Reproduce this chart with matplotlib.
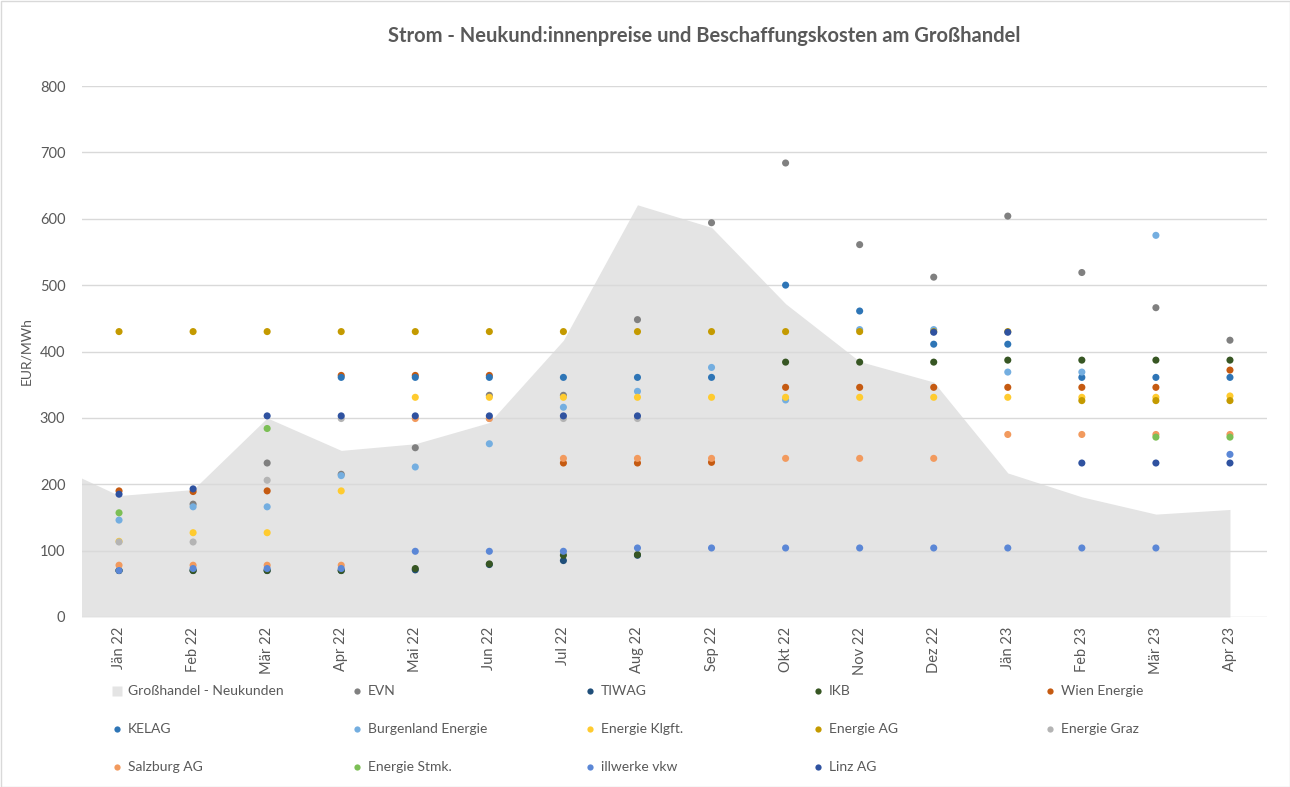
import numpy as np
import matplotlib
matplotlib.use('Agg')
import matplotlib.pyplot as plt
from matplotlib.patches import Rectangle

plt.rcParams['font.family'] = ['Lato', 'DejaVu Sans']

nan = np.nan

# Categories (months)
months = ['Jän 22', 'Feb 22', 'Mär 22', 'Apr 22', 'Mai 22', 'Jun 22', 'Jul 22', 'Aug 22',
          'Sep 22', 'Okt 22', 'Nov 22', 'Dez 22', 'Jän 23', 'Feb 23', 'Mär 23', 'Apr 23']

# Wholesale costs (area); value for Dez 21 only shows at the left edge
grosshandel_dez21 = 235
grosshandel = [183, 192, 300, 251, 261, 293, 417, 621, 587, 472, 385, 354, 217, 181, 155, 162]

# Supplier prices for new customers (EUR/MWh)
evn = [nan, 170, 232, 215, 255, 334, 334, 448, 594, 684, 561, 512, 604, 519, 466, 417]
tiwag = [70, 70, 70, 70, 71, 79, 85, 93, nan, nan, nan, nan, nan, nan, nan, nan]
ikb = [70, 70, 70, 70, 73, 80, 93, 94, nan, 384, 384, 384, 387, 387, 387, 387]
wien = [190, 189, 190, 364, 364, 364, 232, 232, 233, 346, 346, 346, 346, 346, 346, 372]
kelag = [nan, nan, nan, 361, 361, 361, 361, 361, 361, 500, 461, 411, 411, 361, 361, 361]
burgenland = [146, 166, 166, 213, 226, 261, 316, 340, 376, 327, 433, 433, 369, 369, 575, nan]
klgft = [114, 127, 127, 190, 331, 331, 331, 331, 331, 331, 331, 331, 331, 331, 331, 333]
energie_ag = [430, 430, 430, 430, 430, 430, 430, 430, 430, 430, 430, 430, 430, 326, 326, 326]
graz = [113, 113, 206, 299, nan, 299, 299, 299, nan, nan, nan, nan, nan, nan, nan, nan]
salzburg = [78, 78, 78, 78, 299, 299, 239, 239, 239, 239, 239, 239, 275, 275, 275, 275]
stmk = [157, nan, 284, nan, nan, nan, nan, nan, nan, nan, nan, nan, nan, nan, 271, 271]
illwerke = [70, 73, 73, 73, 99, 99, 99, 104, 104, 104, 104, 104, 104, 104, 104, 245]
linz = [185, 193, 303, 303, 303, 303, 303, 303, nan, nan, nan, 429, 429, 232, 232, 232]

series = [
    ('EVN', evn, '#808080'),
    ('TIWAG', tiwag, '#1F4E79'),
    ('IKB', ikb, '#375623'),
    ('Wien Energie', wien, '#C55A11'),
    ('KELAG', kelag, '#2E75B6'),
    ('Burgenland Energie', burgenland, '#74AEE0'),
    ('Energie Klgft.', klgft, '#FFCB2F'),
    ('Energie AG', energie_ag, '#C49A00'),
    ('Energie Graz', graz, '#B4B4B4'),
    ('Salzburg AG', salzburg, '#F29A5E'),
    ('Energie Stmk.', stmk, '#7CBF55'),
    ('illwerke vkw', illwerke, '#5B87D6'),
    ('Linz AG', linz, '#2F52A0'),
]
area_color = '#E4E4E4'
text_color = '#595959'

fig = plt.figure(figsize=(12.9, 7.87), dpi=100)
ax = fig.add_axes([82 / 1290, 1 - 617 / 787, (1267 - 82) / 1290, (617 - 86) / 787])

x = np.arange(len(months))
ax.fill_between(np.concatenate([[-1], x]), np.concatenate([[grosshandel_dez21], grosshandel]),
                color=area_color, lw=0, zorder=1)

for name, vals, col in series:
    ax.scatter(x, vals, s=26, color=col, edgecolors='none', zorder=3)

ax.set_xlim(-0.5, len(months) - 0.5)
ax.set_ylim(0, 800)
ax.set_yticks(range(0, 801, 100))
ax.yaxis.grid(True, color='#D9D9D9', lw=1, zorder=2)
ax.set_axisbelow(False)
for s in ax.spines.values():
    s.set_visible(False)
ax.set_xticks(x)
ax.set_xticklabels(months, rotation=90)
ax.tick_params(axis='both', length=0, colors=text_color, labelsize=10.5)
ax.tick_params(axis='x', pad=7)
ax.tick_params(axis='y', pad=12)
ax.set_ylabel('EUR/MWh', color=text_color, fontsize=10)
ax.yaxis.set_label_coords(-0.042, 0.5)

fig.text(704 / 1290, 1 - 36 / 787, 'Strom - Neukund:innenpreise und Beschaffungskosten am Großhandel',
         ha='center', va='center', fontsize=14.5, fontweight='bold', color=text_color)

# manual legend grid, row by row like the original
lax = fig.add_axes([0, 0, 1, 1])
lax.set_xlim(0, 1290)
lax.set_ylim(787, 0)
lax.axis('off')
entries = [('Großhandel - Neukunden', area_color, 's')] + [(n, c, 'o') for n, v, c in series]
col_x = [117, 357, 590, 818, 1050]
row_y = [691, 729, 767]
for i, (name, col, mk) in enumerate(entries):
    cx = col_x[i % 5]
    cy = row_y[i // 5]
    lax.plot(cx, cy, marker=mk, ms=7 if mk == 's' else 4.5, color=col, mec='none', ls='none')
    lax.text(cx + 11, cy, name, ha='left', va='center', fontsize=10, color=text_color)

fig.patches.append(Rectangle((0.5 / 1290, 0.5 / 787), 1 - 1 / 1290, 1 - 1 / 787, transform=fig.transFigure,
                             fill=False, ec='#D9D9D9', lw=1))

fig.savefig('out.png', dpi=100)
